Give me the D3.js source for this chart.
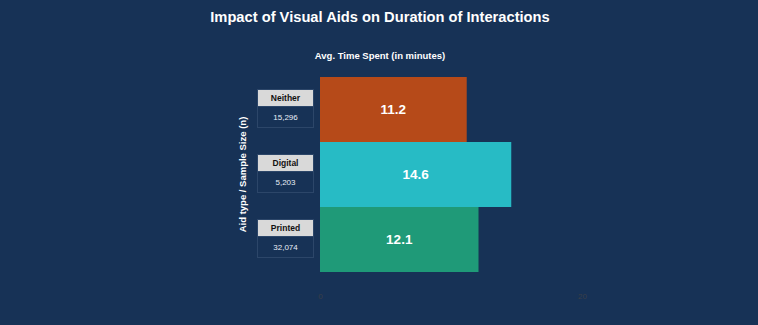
<!DOCTYPE html>
<html>
<head>
<meta charset="utf-8">
<script src="https://cdn.jsdelivr.net/npm/d3@7"></script>
<style>
  body { margin: 0; background: #173256; }
  svg { display: block; font-family: "Liberation Sans", Arial, sans-serif; }
</style>
</head>
<body>
<div id="chart"></div>
<script>
// Chart data
var categories = ["Neither", "Digital", "Printed"],
    avgMinutes = [11.2, 14.6, 12.1],
    sampleSizes = [15296, 5203, 32074],
    barColors = ["#b64a19", "#27bbc5", "#1f9a78"],
    xTicks = [0, 20];

var W = 758, H = 325;

var svg = d3.select("#chart").append("svg")
    .attr("width", W)
    .attr("height", H);

svg.append("rect").attr("width", W).attr("height", H).attr("fill", "#173256");

// Scales
var x = d3.scaleLinear().domain([0, 20]).range([320, 582]);
var y = d3.scaleBand().domain(categories).range([77, 272]).padding(0);

// Title
svg.append("text")
    .attr("x", 380).attr("y", 22)
    .attr("text-anchor", "middle")
    .attr("fill", "#fff")
    .attr("font-size", 14.7).attr("font-weight", "bold")
    .text("Impact of Visual Aids on Duration of Interactions");

// Top axis title
svg.append("text")
    .attr("x", 380).attr("y", 59)
    .attr("text-anchor", "middle")
    .attr("fill", "#fff")
    .attr("font-size", 9.5).attr("font-weight", "bold")
    .text("Avg. Time Spent (in minutes)");

// Left axis title
svg.append("text")
    .attr("transform", "translate(246," + (y.range()[0] + y.range()[1]) / 2 + ") rotate(-90)")
    .attr("text-anchor", "middle")
    .attr("fill", "#fff")
    .attr("font-size", 9.5).attr("font-weight", "bold")
    .text("Aid type / Sample Size (n)");

// Bars
var bars = svg.selectAll("g.bar")
    .data(categories)
  .enter().append("g")
    .attr("class", "bar");

bars.append("rect")
    .attr("x", x(0))
    .attr("y", function(d) { return y(d); })
    .attr("width", function(d, i) { return x(avgMinutes[i]) - x(0); })
    .attr("height", y.bandwidth())
    .attr("fill", function(d, i) { return barColors[i]; });

bars.append("text")
    .attr("x", function(d, i) { return (x(0) + x(avgMinutes[i])) / 2; })
    .attr("y", function(d) { return y(d) + y.bandwidth() / 2; })
    .attr("dy", "0.36em")
    .attr("text-anchor", "middle")
    .attr("fill", "#fff")
    .attr("font-size", 13.5).attr("font-weight", "bold")
    .text(function(d, i) { return avgMinutes[i].toFixed(1); });

// Category label boxes
var fmt = d3.format(",");
var boxW = 56, headH = 17, valH = 21, boxX = 257.5;

var labels = svg.selectAll("g.lab")
    .data(categories)
  .enter().append("g")
    .attr("class", "lab")
    .attr("transform", function(d) {
      return "translate(" + boxX + "," + Math.round(y(d) + y.bandwidth() / 2 - 21) + ")";
    });

labels.append("rect")
    .attr("y", 0.5)
    .attr("width", boxW).attr("height", headH + valH)
    .attr("fill", "#173256")
    .attr("stroke", "#2c4669");

labels.append("rect")
    .attr("y", 0.5)
    .attr("width", boxW).attr("height", headH)
    .attr("fill", "#d9d9d9")
    .attr("stroke", "#2c4669");

labels.append("text")
    .attr("x", boxW / 2).attr("y", headH / 2 + 0.5)
    .attr("dy", "0.36em")
    .attr("text-anchor", "middle")
    .attr("fill", "#111")
    .attr("font-size", 8.5).attr("font-weight", "bold")
    .text(function(d) { return d; });

labels.append("text")
    .attr("x", boxW / 2).attr("y", headH + valH / 2 + 0.5)
    .attr("dy", "0.36em")
    .attr("text-anchor", "middle")
    .attr("fill", "#e8eef6")
    .attr("font-size", 8)
    .text(function(d, i) { return fmt(sampleSizes[i]); });

// Bottom axis (faint tick labels only)
var xAxis = svg.append("g")
    .attr("transform", "translate(0,290)")
    .call(d3.axisBottom(x).tickValues(xTicks).tickSize(0).tickPadding(3));
xAxis.select(".domain").remove();
xAxis.selectAll("text")
    .attr("fill", "#3a3f48")
    .attr("font-size", 8)
    .attr("font-family", "'Liberation Sans', Arial, sans-serif");
</script>
</body>
</html>
